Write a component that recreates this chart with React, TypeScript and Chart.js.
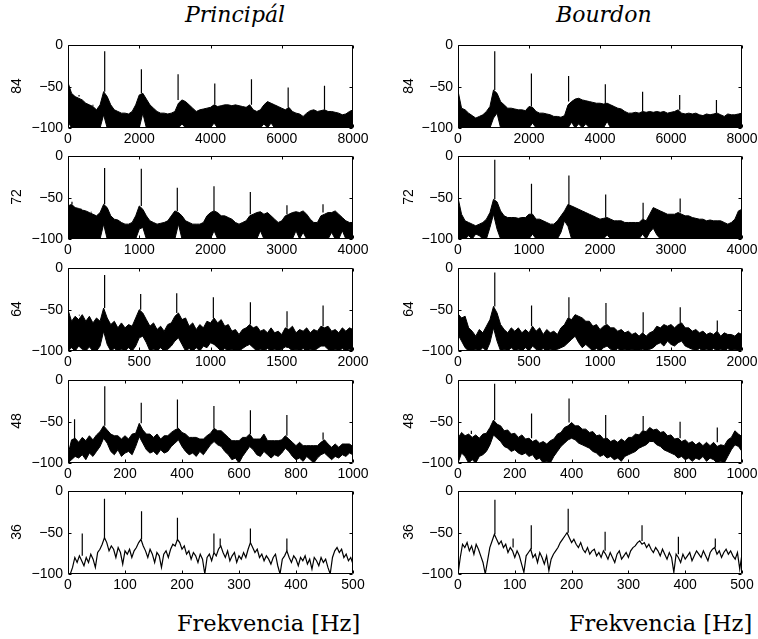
import React, { useEffect, useRef } from "react";
import { Chart, registerables } from "chart.js";

Chart.register(...registerables);

const SANS = "'Liberation Sans', Arial, Helvetica, sans-serif";
const SERIF = "'DejaVu Serif', 'Liberation Serif', serif";

// ---- spectra: level in dB, sampled every `hz` Hz from 0 ----

// note 84 (0–8000 Hz, 100 Hz per sample)
const hz84 = 100;
const principal84Top = [
  -45, -58, -62, -64, -66, -70, -72, -74, -78, -72,
  -56, -62, -72, -78, -80, -82, -82, -83, -80, -72,
  -60, -58, -65, -72, -76, -80, -82, -82, -83, -82,
  -80, -70, -66, -68, -72, -76, -80, -78, -77, -76,
  -75, -72, -74, -73, -72, -72, -73, -72, -73, -74,
  -75, -72, -78, -80, -78, -72, -68, -70, -72, -74,
  -76, -78, -75, -80, -82, -83, -86, -82, -79, -78,
  -80, -79, -78, -80, -80, -81, -82, -84, -83, -80,
  -78,
];
const principal84Floor = [
  -92, -100, -100, -100, -100, -100, -100, -100, -100, -100,
  -84, -100, -100, -100, -100, -100, -100, -100, -100, -100,
  -100, -82, -100, -100, -100, -100, -100, -100, -100, -100,
  -100, -100, -95, -100, -100, -100, -100, -100, -100, -100,
  -100, -94, -100, -100, -100, -100, -100, -100, -100, -100,
  -100, -100, -100, -100, -100, -95, -100, -94, -100, -100,
  -100, -100, -100, -100, -100, -100, -100, -100, -100, -100,
  -100, -100, -100, -100, -100, -100, -100, -100, -100, -100,
  -100,
];
const principal84Peaks = [
  [310, -60], [700, -73], [1030, -7], [2060, -29], [3090, -35],
  [4120, -46], [5150, -41], [6180, -51], [7200, -49],
];

const bourdon84Top = [
  -55, -76, -78, -82, -85, -88, -86, -84, -80, -74,
  -54, -58, -68, -72, -76, -76, -77, -78, -78, -79,
  -74, -75, -80, -82, -82, -83, -84, -86, -86, -87,
  -85, -72, -68, -65, -64, -66, -67, -68, -69, -70,
  -70, -71, -70, -72, -74, -76, -77, -80, -82, -82,
  -81, -82, -80, -81, -80, -81, -80, -81, -80, -82,
  -81, -80, -78, -82, -83, -82, -83, -82, -84, -85,
  -83, -84, -83, -82, -84, -86, -83, -84, -84, -83,
  -82,
];
const bourdon84Floor = [
  -100, -100, -100, -100, -100, -100, -100, -100, -100, -100,
  -88, -82, -100, -100, -100, -100, -100, -100, -100, -100,
  -100, -94, -100, -100, -100, -100, -100, -100, -100, -100,
  -100, -100, -93, -100, -95, -100, -95, -100, -100, -100,
  -100, -100, -92, -100, -100, -100, -100, -100, -100, -100,
  -100, -100, -100, -100, -100, -100, -100, -100, -100, -100,
  -100, -100, -100, -100, -100, -100, -100, -100, -100, -100,
  -100, -100, -100, -100, -100, -100, -100, -100, -100, -100,
  -100,
];
const bourdon84Peaks = [
  [1035, -7], [2068, -34], [3115, -37], [4150, -47],
  [5200, -56], [6245, -60], [7280, -66],
];

// note 72 (0–4000 Hz, 50 Hz per sample)
const hz72 = 50;
const principal72Top = [
  -60, -58, -62, -63, -65, -66, -68, -70, -72, -68,
  -58, -62, -72, -76, -77, -80, -82, -82, -80, -72,
  -60, -64, -72, -78, -80, -82, -81, -80, -78, -72,
  -66, -68, -72, -78, -80, -82, -82, -82, -80, -72,
  -68, -66, -68, -72, -72, -74, -76, -80, -82, -80,
  -78, -72, -70, -68, -67, -70, -68, -72, -76, -80,
  -78, -72, -70, -68, -67, -68, -66, -70, -76, -80,
  -80, -72, -70, -68, -68, -66, -70, -74, -78, -80,
  -80,
];
const principal72Floor = [
  -100, -100, -100, -100, -100, -100, -100, -100, -100, -100,
  -82, -100, -100, -100, -100, -100, -100, -100, -100, -100,
  -88, -86, -100, -100, -100, -100, -100, -100, -100, -100,
  -100, -82, -100, -100, -100, -100, -100, -100, -100, -100,
  -100, -90, -100, -100, -100, -100, -100, -100, -100, -100,
  -100, -100, -100, -100, -90, -100, -100, -100, -100, -100,
  -100, -100, -100, -100, -90, -100, -92, -100, -100, -100,
  -100, -100, -100, -100, -92, -100, -100, -90, -100, -100,
  -100,
];
const principal72Peaks = [
  [56, -55], [180, -66], [327, -67], [514, -14], [1029, -15], [1534, -38],
  [2049, -36], [2559, -43], [3073, -59], [3579, -58],
];

const bourdon72Top = [
  -50, -70, -78, -80, -82, -84, -82, -80, -76, -68,
  -52, -55, -66, -72, -74, -74, -74, -75, -74, -74,
  -70, -70, -76, -76, -78, -80, -82, -82, -78, -72,
  -66, -58, -60, -62, -64, -66, -68, -70, -72, -74,
  -76, -75, -74, -76, -78, -78, -78, -80, -80, -80,
  -80, -80, -76, -78, -70, -62, -64, -66, -68, -70,
  -70, -70, -68, -70, -72, -72, -74, -75, -76, -76,
  -78, -77, -78, -78, -78, -80, -82, -80, -76, -66,
  -64,
];
const bourdon72Floor = [
  -100, -100, -100, -96, -100, -94, -96, -100, -100, -86,
  -70, -88, -100, -100, -100, -100, -100, -100, -100, -100,
  -100, -94, -100, -100, -100, -100, -100, -100, -100, -92,
  -78, -85, -100, -100, -100, -100, -100, -100, -100, -100,
  -100, -100, -95, -100, -100, -100, -100, -100, -100, -100,
  -100, -100, -94, -100, -92, -87, -95, -100, -100, -100,
  -100, -100, -100, -100, -100, -100, -100, -100, -100, -100,
  -100, -100, -100, -100, -100, -100, -100, -100, -100, -100,
  -100,
];
const bourdon72Peaks = [
  [518, -4], [1035, -33], [1562, -23], [2080, -46], [2607, -56], [3129, -51],
];

// note 64 (0–2000 Hz, 25 Hz per sample)
const hz64 = 25;
const principal64Top = [
  -50, -64, -58, -62, -56, -64, -58, -66, -60, -64,
  -48, -60, -68, -64, -72, -66, -72, -68, -70, -60,
  -50, -54, -62, -70, -66, -74, -70, -76, -68, -66,
  -58, -54, -62, -60, -70, -66, -74, -68, -72, -64,
  -66, -60, -66, -62, -70, -68, -76, -74, -80, -74,
  -72, -68, -72, -70, -76, -74, -78, -72, -78, -76,
  -80, -72, -74, -70, -78, -74, -76, -72, -78, -74,
  -76, -70, -72, -70, -76, -74, -78, -72, -76, -72,
  -74,
];
const principal64Floor = [
  -100, -96, -100, -94, -98, -100, -95, -100, -100, -94,
  -76, -92, -100, -97, -100, -98, -100, -96, -100, -94,
  -84, -82, -90, -100, -98, -100, -96, -100, -98, -94,
  -88, -84, -92, -100, -97, -100, -96, -100, -94, -96,
  -90, -92, -96, -100, -97, -100, -98, -100, -100, -97,
  -94, -92, -96, -100, -98, -100, -97, -100, -98, -100,
  -98, -95, -96, -100, -98, -100, -97, -100, -98, -100,
  -97, -94, -94, -98, -100, -98, -100, -97, -100, -98,
  -100,
];
const principal64Peaks = [
  [4, -50], [80, -57], [160, -58], [257, -8], [510, -31], [763, -30],
  [1020, -35], [1280, -41], [1537, -52], [1790, -45],
];

const bourdon64Top = [
  -55, -60, -58, -72, -76, -82, -74, -78, -70, -62,
  -46, -54, -68, -74, -78, -72, -76, -72, -78, -74,
  -78, -70, -76, -72, -80, -74, -78, -76, -80, -72,
  -68, -60, -62, -56, -58, -60, -64, -64, -70, -68,
  -74, -70, -68, -72, -72, -76, -74, -78, -76, -80,
  -78, -82, -78, -82, -78, -76, -70, -72, -68, -70,
  -68, -72, -68, -66, -72, -72, -76, -74, -78, -76,
  -80, -78, -80, -76, -82, -78, -80, -80, -82, -78,
  -80,
];
const bourdon64Floor = [
  -80, -88, -96, -100, -100, -98, -100, -96, -100, -90,
  -72, -88, -100, -98, -100, -96, -100, -98, -100, -96,
  -100, -94, -98, -100, -97, -100, -98, -100, -98, -96,
  -94, -90, -86, -82, -90, -96, -92, -96, -100, -97,
  -100, -96, -94, -98, -100, -97, -100, -98, -100, -98,
  -100, -99, -98, -100, -98, -96, -92, -90, -94, -88,
  -92, -94, -90, -88, -94, -96, -98, -100, -97, -100,
  -98, -100, -97, -100, -98, -100, -97, -100, -98, -100,
  -97,
];
const bourdon64Peaks = [
  [47, -60], [259, -5], [518, -45], [781, -35], [1042, -42],
  [1304, -53], [1565, -47], [1826, -63],
];

// note 48 (0–1000 Hz, 12.5 Hz per sample)
const hz48 = 12.5;
const principal48Top = [
  -90, -72, -70, -75, -69, -73, -67, -72, -66, -62,
  -55, -60, -65, -67, -67, -71, -67, -71, -65, -64,
  -52, -60, -65, -65, -69, -65, -71, -67, -67, -63,
  -60, -58, -63, -65, -69, -69, -69, -71, -71, -67,
  -64, -58, -61, -61, -65, -69, -73, -73, -73, -69,
  -69, -65, -71, -71, -71, -65, -73, -73, -73, -73,
  -72, -67, -71, -75, -79, -75, -79, -79, -79, -79,
  -79, -75, -72, -77, -81, -77, -81, -77, -77, -77,
  -80,
];
const principal48Floor = [
  -100, -96, -92, -94, -90, -96, -88, -92, -86, -80,
  -70, -76, -86, -90, -84, -92, -88, -86, -90, -80,
  -68, -76, -84, -88, -86, -90, -84, -88, -86, -80,
  -76, -72, -80, -86, -90, -88, -92, -86, -90, -84,
  -78, -74, -78, -80, -86, -90, -96, -94, -100, -92,
  -86, -80, -84, -90, -92, -86, -90, -94, -90, -92,
  -88, -82, -86, -92, -96, -94, -98, -92, -96, -100,
  -94, -90, -88, -92, -96, -92, -94, -90, -92, -88,
  -90,
];
const principal48Peaks = [
  [23, -47], [129, -7], [257, -27], [384, -23], [512, -31],
  [640, -36], [684, -65], [768, -42], [895, -63],
];

const bourdon48Top = [
  -70, -63, -67, -65, -69, -66, -70, -65, -64, -57,
  -48, -53, -55, -61, -60, -65, -64, -69, -66, -71,
  -70, -74, -72, -76, -74, -77, -73, -71, -65, -63,
  -57, -55, -51, -55, -55, -59, -59, -63, -62, -67,
  -66, -71, -70, -74, -72, -75, -71, -74, -69, -69,
  -65, -66, -61, -62, -57, -60, -59, -63, -62, -67,
  -66, -71, -70, -74, -72, -76, -74, -78, -75, -79,
  -75, -79, -75, -80, -78, -79, -72, -69, -61, -65,
  -68,
];
const bourdon48Floor = [
  -100, -88, -92, -100, -96, -100, -92, -90, -86, -78,
  -66, -70, -74, -80, -82, -86, -84, -88, -90, -88,
  -92, -90, -96, -94, -100, -98, -100, -92, -86, -80,
  -76, -72, -70, -72, -76, -78, -80, -82, -86, -88,
  -92, -90, -94, -92, -96, -94, -98, -92, -90, -88,
  -86, -82, -80, -78, -74, -74, -78, -80, -84, -86,
  -88, -90, -94, -92, -96, -94, -98, -94, -96, -92,
  -98, -94, -96, -100, -98, -100, -92, -84, -78, -80,
  -86,
];
const bourdon48Peaks = [
  [47, -61], [129, -4], [259, -40], [391, -22], [520, -42],
  [652, -43], [782, -50], [913, -57],
];

// note 36 (0–500 Hz, 4 Hz per sample)
const hz36 = 4;
const principal36 = [
  -100, -100, -92, -80, -86, -78, -84, -90, -80, -86,
  -76, -82, -92, -74, -70, -64, -56, -62, -72, -66,
  -70, -80, -68, -74, -88, -72, -76, -70, -80, -72,
  -68, -62, -58, -66, -72, -80, -70, -76, -86, -74,
  -78, -92, -76, -72, -80, -70, -64, -66, -58, -62,
  -70, -66, -76, -72, -82, -74, -78, -86, -76, -82,
  -100, -80, -76, -84, -74, -78, -70, -66, -74, -80,
  -72, -84, -78, -74, -86, -78, -82, -74, -80, -70,
  -62, -68, -74, -70, -80, -76, -84, -78, -82, -88,
  -80, -76, -90, -100, -82, -78, -72, -80, -86, -78,
  -82, -90, -80, -84, -78, -88, -82, -94, -80, -84,
  -90, -80, -86, -82, -92, -100, -80, -72, -68, -74,
  -70, -80, -76, -84, -80, -88,
];
const principal36Peaks = [
  [25, -51], [64, -9], [129, -24], [192, -32], [256, -51],
  [267, -57], [320, -45], [384, -57],
];

const bourdon36 = [
  -100, -80, -64, -68, -62, -72, -66, -76, -64, -70,
  -78, -86, -100, -84, -68, -60, -52, -58, -64, -60,
  -68, -64, -74, -68, -72, -80, -72, -78, -88, -98,
  -78, -74, -70, -80, -76, -86, -74, -80, -88, -78,
  -96, -82, -76, -72, -68, -62, -58, -54, -50, -56,
  -62, -58, -64, -68, -62, -70, -74, -68, -76, -72,
  -70, -78, -74, -80, -72, -76, -82, -74, -80, -86,
  -76, -72, -82, -78, -74, -80, -72, -68, -66, -62,
  -60, -64, -62, -68, -64, -70, -74, -68, -72, -78,
  -70, -76, -82, -74, -80, -98, -76, -80, -86, -76,
  -82, -78, -74, -84, -78, -72, -76, -80, -72, -78,
  -84, -74, -70, -68, -76, -72, -80, -74, -70, -76,
  -72, -78, -82, -74, -94, -76,
];
const bourdon36Peaks = [
  [65, -10], [97, -57], [129, -41], [194, -21], [259, -49],
  [324, -41], [388, -55], [453, -57],
];

// x-axis range and tick spacing per row
const rowNotes = ["84", "72", "64", "48", "36"];
const rowMaxHz = [8000, 4000, 2000, 1000, 500];
const rowTickHz = [2000, 1000, 500, 200, 100];

// ---- layout ----
const COL_LEFT = [68, 458];
const COL_WIDTH = [285, 284];
const ROW_TOP = [44, 155, 267, 379, 490];
const PLOT_H = 84;

const PAD_L = 50;
const PAD_R = 24;
const PAD_T = 12;
const PAD_B = 24;

type PanelSpec = {
  col: number;
  row: number;
  hz: number;
  top: number[];
  floor?: number[];
  peaks: number[][];
};

const panels: PanelSpec[] = [
  { col: 0, row: 0, hz: hz84, top: principal84Top, floor: principal84Floor, peaks: principal84Peaks },
  { col: 1, row: 0, hz: hz84, top: bourdon84Top, floor: bourdon84Floor, peaks: bourdon84Peaks },
  { col: 0, row: 1, hz: hz72, top: principal72Top, floor: principal72Floor, peaks: principal72Peaks },
  { col: 1, row: 1, hz: hz72, top: bourdon72Top, floor: bourdon72Floor, peaks: bourdon72Peaks },
  { col: 0, row: 2, hz: hz64, top: principal64Top, floor: principal64Floor, peaks: principal64Peaks },
  { col: 1, row: 2, hz: hz64, top: bourdon64Top, floor: bourdon64Floor, peaks: bourdon64Peaks },
  { col: 0, row: 3, hz: hz48, top: principal48Top, floor: principal48Floor, peaks: principal48Peaks },
  { col: 1, row: 3, hz: hz48, top: bourdon48Top, floor: bourdon48Floor, peaks: bourdon48Peaks },
  { col: 0, row: 4, hz: hz36, top: principal36, peaks: principal36Peaks },
  { col: 1, row: 4, hz: hz36, top: bourdon36, peaks: bourdon36Peaks },
];

// box frame with inward tick marks on all four sides
const framePlugin = {
  id: "frame",
  afterDraw(chart: any) {
    const { ctx, chartArea } = chart;
    const l = Math.round(chartArea.left) + 0.5;
    const r = Math.round(chartArea.right) - 0.5;
    const t = Math.round(chartArea.top) + 0.5;
    const b = Math.round(chartArea.bottom) - 0.5;
    const len = 3;
    ctx.save();
    ctx.strokeStyle = "#000";
    ctx.lineWidth = 1;
    ctx.beginPath();
    ctx.rect(l, t, r - l, b - t);
    const xs = chart.scales.x;
    xs.ticks.forEach((tk: any) => {
      const px = Math.round(xs.getPixelForValue(tk.value)) + 0.5;
      ctx.moveTo(px, b);
      ctx.lineTo(px, b - len);
      ctx.moveTo(px, t);
      ctx.lineTo(px, t + len);
    });
    const ys = chart.scales.y;
    ys.ticks.forEach((tk: any) => {
      const py = Math.round(ys.getPixelForValue(tk.value)) + 0.5;
      ctx.moveTo(l, py);
      ctx.lineTo(l + len, py);
      ctx.moveTo(r, py);
      ctx.lineTo(r - len, py);
    });
    ctx.stroke();
    ctx.restore();
  },
};

function Panel({ spec }: { spec: PanelSpec }) {
  const ref = useRef<HTMLCanvasElement>(null);
  const left = COL_LEFT[spec.col];
  const width = COL_WIDTH[spec.col];
  const top = ROW_TOP[spec.row];

  useEffect(() => {
    if (!ref.current) return;
    const toPts = (arr: number[]) => arr.map((v, i) => ({ x: i * spec.hz, y: v }));
    const datasets: any[] = [];
    const base = {
      borderColor: "#000",
      borderWidth: 1,
      pointRadius: 0,
      tension: 0,
    };
    if (spec.floor) {
      datasets.push({ ...base, data: toPts(spec.top), fill: "+1", backgroundColor: "#000" });
      datasets.push({ ...base, data: toPts(spec.floor), fill: false });
    } else {
      datasets.push({ ...base, borderWidth: 1.2, data: toPts(spec.top), fill: false });
    }
    // harmonic spikes rise from the local spectrum level
    const spikes: any[] = [];
    spec.peaks.forEach(([f, db]) => {
      const i = Math.round(f / spec.hz);
      const near = spec.top.slice(Math.max(0, i - 1), Math.min(spec.top.length, i + 2));
      spikes.push({ x: f, y: Math.max(...near) }, { x: f, y: db }, { x: f, y: null });
    });
    datasets.push({ ...base, borderWidth: 1.2, data: spikes, fill: false, spanGaps: false });

    const chart = new Chart(ref.current, {
      type: "line",
      data: { datasets },
      options: {
        responsive: false,
        animation: false,
        events: [],
        layout: { padding: { left: 0, right: PAD_R, top: PAD_T, bottom: 0 } },
        plugins: { legend: { display: false }, tooltip: { enabled: false } },
        scales: {
          x: {
            type: "linear",
            min: 0,
            max: rowMaxHz[spec.row],
            grid: { display: false, drawTicks: false },
            border: { display: false },
            ticks: {
              stepSize: rowTickHz[spec.row],
              color: "#000",
              padding: 3,
              maxRotation: 0,
              autoSkip: false,
              font: { family: SANS, size: 14 },
              callback: (v: any) => String(v),
            },
            afterFit: (s: any) => {
              s.height = PAD_B;
            },
          },
          y: {
            min: -100,
            max: 0,
            grid: { display: false, drawTicks: false },
            border: { display: false },
            ticks: {
              stepSize: 50,
              color: "#000",
              padding: 5,
              font: { family: SANS, size: 14 },
              callback: (v: any) => String(v).replace("-", "\u2212"),
            },
            afterFit: (s: any) => {
              s.width = PAD_L;
            },
          },
        },
      },
      plugins: [framePlugin],
    });
    return () => chart.destroy();
  }, []);

  const w = PAD_L + width + PAD_R;
  const h = PAD_T + PLOT_H + PAD_B;
  return (
    <canvas
      ref={ref}
      width={w}
      height={h}
      style={{ position: "absolute", left: left - PAD_L, top: top - PAD_T, width: w, height: h }}
    />
  );
}

const textBase: React.CSSProperties = {
  position: "absolute",
  whiteSpace: "nowrap",
  lineHeight: 1,
  color: "#000",
};

export default function App() {
  return (
    <div
      style={{
        position: "absolute",
        left: 0,
        top: 0,
        width: 758,
        height: 639,
        background: "#fff",
        overflow: "hidden",
      }}
    >
      {panels.map((p, i) => (
        <Panel key={i} spec={p} />
      ))}
      <div style={{ ...textBase, left: 185, top: 4, fontFamily: SERIF, fontStyle: "italic", fontSize: 22 }}>
        Principál
      </div>
      <div style={{ ...textBase, left: 556, top: 4, fontFamily: SERIF, fontStyle: "italic", fontSize: 22 }}>
        Bourdon
      </div>
      <div style={{ ...textBase, left: 177, top: 612, fontFamily: SERIF, fontSize: 22.5 }}>
        Frekvencia [Hz]
      </div>
      <div style={{ ...textBase, left: 569, top: 612, fontFamily: SERIF, fontSize: 22.5 }}>
        Frekvencia [Hz]
      </div>
      {rowNotes.map((n, r) =>
        [16, 408].map((cx, c) => (
          <div
            key={`${r}-${c}`}
            style={{
              ...textBase,
              left: cx - 20,
              top: ROW_TOP[r] + PLOT_H / 2 - 8,
              width: 40,
              height: 16,
              textAlign: "center",
              fontFamily: SANS,
              fontSize: 14,
              lineHeight: "16px",
              transform: "rotate(-90deg)",
            }}
          >
            {n}
          </div>
        ))
      )}
    </div>
  );
}
